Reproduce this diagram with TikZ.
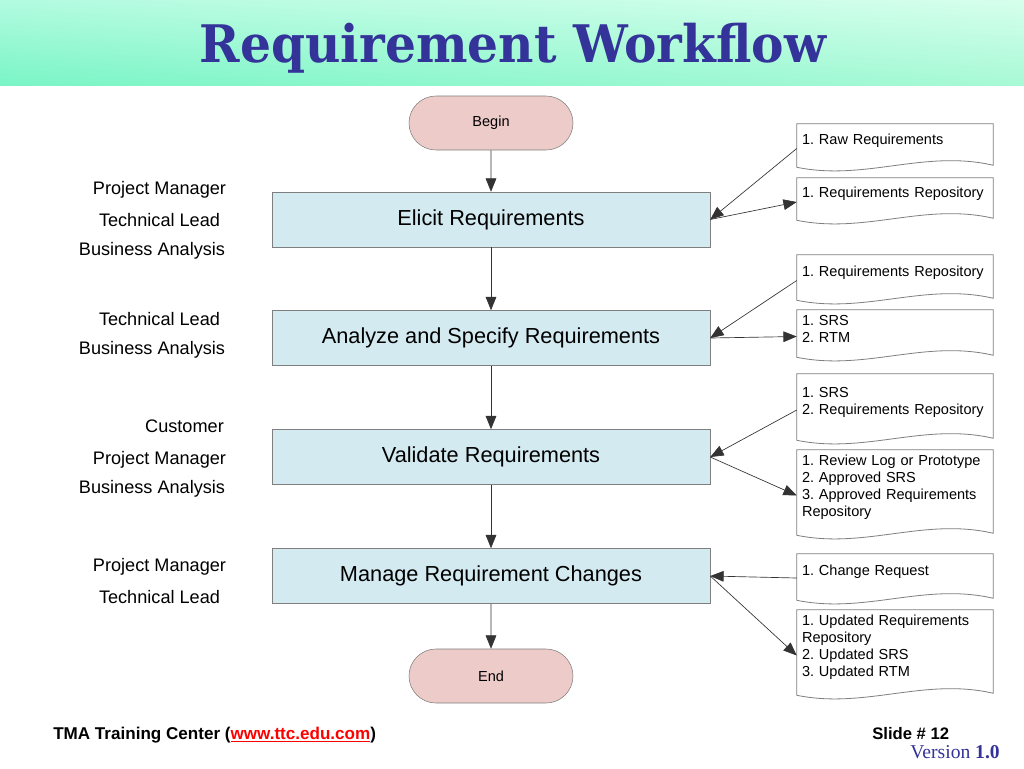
\documentclass[tikz,border=0pt]{standalone}
\usepackage{graphicx}
\usepackage{fontspec}
\setmainfont{Liberation Sans}
\newfontfamily\titlefont{DejaVu Serif}
\newfontfamily\verfont{Liberation Serif}
\usetikzlibrary{arrows.meta,calc,shapes.misc,shadings}
\frenchspacing
\definecolor{titleblue}{HTML}{333399}
\definecolor{boxfill}{HTML}{D3EAF0}
\definecolor{termfill}{HTML}{ECCBC8}
\definecolor{edgegray}{HTML}{7F7F7F}
\definecolor{bandUL}{RGB}{178,251,224}
\definecolor{bandUR}{RGB}{214,255,236}
\definecolor{bandLL}{RGB}{122,245,198}
\definecolor{bandLR}{RGB}{168,249,214}
\tikzset{
 procbox/.style={draw=edgegray, fill=boxfill, minimum width=328.5pt, minimum height=41.25pt, inner sep=0pt, font=\fontsize{16.3}{19}\selectfont},
 term/.style={draw=edgegray, fill=termfill, rounded rectangle, minimum width=123pt, minimum height=40.5pt, inner sep=0pt, font=\fontsize{10.9}{13}\selectfont},
 docnode/.style={text width=139.5pt, inner xsep=3.75pt, inner ysep=0pt, align=left, font=\fontsize{10.9}{12.75}\selectfont},
 docline/.style={draw=edgegray, line width=0.6pt},
 role/.style={font=\fontsize{13.6}{16}\selectfont, inner sep=0pt, anchor=base},
 flow/.style={draw=black!80, line width=0.5pt, -{Triangle[length=10pt,width=8pt]}},
}
\newcommand\docshape[1]{%
 \path[docline] (#1.north west) -- (#1.north east) -- ($(#1.south east)+(0,8)$)
   .. controls ($(#1.south west)+(127.4,-8)$) and ($(#1.south west)+(68.6,24)$) ..
   ($(#1.south west)+(0,10)$) -- cycle;}
\begin{document}
\begin{tikzpicture}[x=0.75pt,y=-0.75pt]
\path[use as bounding box, fill=white] (0,0) rectangle (1024,768);
% title band
\shade[upper left=bandUL, upper right=bandUR, lower left=bandLL, lower right=bandLR]
  (0,0) rectangle (1024,85);
\node[anchor=base, inner sep=0pt, text=titleblue] (title) at (513,62)
  {\resizebox{469.5pt}{29.5pt}{\titlefont\bfseries Requirement Workflow}};

% flow nodes
\node[term] (begin) at (491,123) {Begin};
\node[procbox] (elicit) at (491,219.5) {Elicit Requirements};
\node[procbox] (analyze) at (491,338) {Analyze and Specify Requirements};
\node[procbox] (validate) at (491,457) {Validate Requirements};
\node[procbox] (manage) at (491,576) {Manage Requirement Changes};
\node[term] (end) at (491,676) {End};

\draw[flow] (begin) -- (elicit);
\draw[flow] (elicit) -- (analyze);
\draw[flow] (analyze) -- (validate);
\draw[flow] (validate) -- (manage);
\draw[flow] (manage) -- (end);

% roles
\node[role] (r1) at (159.5,194) {Project Manager};
\node[role] (r2) at (159.5,226) {Technical Lead};
\node[role] (r3) at (152,255) {Business Analysis};
\node[role] (r4) at (159.5,325) {Technical Lead};
\node[role] (r5) at (152,354) {Business Analysis};
\node[role] (r6) at (184.5,432) {Customer};
\node[role] (r7) at (159.5,464) {Project Manager};
\node[role] (r8) at (152,493) {Business Analysis};
\node[role] (r9) at (159.5,571) {Project Manager};
\node[role] (r10) at (159.5,603) {Technical Lead};

% documents
\node[docnode, minimum height=24.75pt] (d1) at (895,140.5) {1. Raw Requirements};
\node[docnode, minimum height=24pt] (d2) at (895,194) {1. Requirements Repository};
\node[docnode, minimum height=26.25pt] (d3) at (895,272.5) {1. Requirements Repository};
\node[docnode, minimum height=27.75pt] (d4) at (895,328.5) {1. SRS\\2. RTM};
\node[docnode, minimum height=42pt] (d5) at (895,402) {1. SRS\\2. Requirements Repository};
\node[docnode, minimum height=56.25pt] (d6) at (895,487.5) {1. Review Log or Prototype\\2. Approved SRS\\3. Approved Requirements\\Repository};
\node[docnode, minimum height=27pt] (d7) at (895,572) {1. Change Request};
\node[docnode, minimum height=56.25pt] (d8) at (895,647.5) {1. Updated Requirements\\Repository\\2. Updated SRS\\3. Updated RTM};
\docshape{d1}\docshape{d2}\docshape{d3}\docshape{d4}
\docshape{d5}\docshape{d6}\docshape{d7}\docshape{d8}

\draw[flow] ([yshift=-6pt]d1.west) -- (elicit.east);
\draw[flow] (elicit.east) -- ([yshift=-6pt]d2.west);
\draw[flow] ([yshift=-6pt]d3.west) -- (analyze.east);
\draw[flow] (analyze.east) -- ([yshift=-6pt]d4.west);
\draw[flow] ([yshift=-6pt]d5.west) -- (validate.east);
\draw[flow] (validate.east) -- ([yshift=-6pt]d6.west);
\draw[flow] ([yshift=-4.5pt]d7.west) -- (manage.east);
\draw[flow] (manage.east) -- ([yshift=-6pt]d8.west);

% footer
\node[anchor=base west, inner sep=0pt, font=\bfseries\fontsize{12.8}{15}\selectfont] (footer) at (53,739)
  {TMA Training Center (\textcolor{red}{\underline{www.ttc.edu.com}})};
\node[anchor=base west, inner sep=0pt, font=\bfseries\fontsize{12.5}{15}\selectfont] (slide) at (872,739) {Slide \# 12};
\node[anchor=base east, inner sep=0pt, text=titleblue, font=\verfont\fontsize{14.7}{17}\selectfont] (ver) at (1000,758) {Version \textbf{1.0}};
\end{tikzpicture}
\end{document}
